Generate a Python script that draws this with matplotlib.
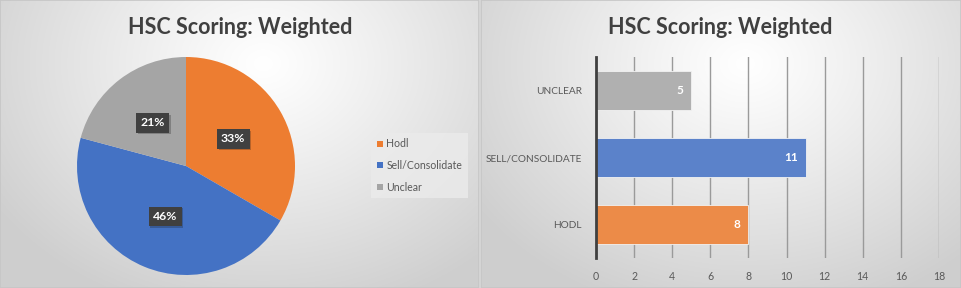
import numpy as np
import matplotlib
matplotlib.use("Agg")
import matplotlib.pyplot as plt
import matplotlib.patheffects as pe
from matplotlib.patches import Rectangle

# ---- data ----
title = "HSC Scoring: Weighted"
pie_labels = ["Hodl", "Sell/Consolidate", "Unclear"]
pie_values = [8, 11, 5]
pie_colors = ["#ED7D31", "#4472C4", "#A5A5A5"]

bar_categories = ["HODL", "SELL/CONSOLIDATE", "UNCLEAR"]
bar_values = [8, 11, 5]
bar_colors = ["#EC8B48", "#5B82CA", "#B0B0B0"]
x_ticks = [0, 2, 4, 6, 8, 10, 12, 14, 16, 18]

FONT = "Lato"
W, H = 961, 288
fig = plt.figure(figsize=(W / 100, H / 100), dpi=100)
fig.patch.set_facecolor("#d4d4d4")


def fx(px):
    return px / W


def fy(py):
    return 1 - py / H


def panel(x0, x1):
    ax = fig.add_axes([fx(x0), 0, fx(x1 - x0), 1])
    ny, nx = 200, 400
    yy, xx = np.mgrid[0:ny, 0:nx]
    u = xx / (nx - 1)
    v = yy / (ny - 1)
    d = np.sqrt(((u - 0.55) / 0.75) ** 2 + ((v - 0.22) / 1.0) ** 2)
    d = np.clip(d / 0.9, 0, 1)
    val = 1.0 - 0.19 * d ** 1.1
    img = np.dstack([val, val, val])
    ax.imshow(img, extent=[0, 1, 0, 1], aspect="auto", origin="upper")
    ax.add_patch(Rectangle((0, 0), 1, 1, transform=ax.transAxes, fill=False,
                           edgecolor="#c6c6c6", lw=1.2))
    ax.set_xlim(0, 1)
    ax.set_ylim(0, 1)
    ax.axis("off")
    return ax


panel(0, 479)
panel(481, 961)

title_kw = dict(fontsize=15.5, fontweight="bold", color="#404040", family=FONT,
                ha="center", va="center")
fig.text(fx(240), fy(27), title, **title_kw)
fig.text(fx(720), fy(27), title, **title_kw)

# ---- pie ----
cx, cy, r = 186, 166, 109
pax = fig.add_axes([fx(cx - r), fy(cy + r), fx(2 * r), 2 * r / H])
wedges, texts, autotexts = pax.pie(
    pie_values, colors=pie_colors, startangle=90, counterclock=False,
    autopct="%1.0f%%", pctdistance=0.5, radius=1,
    wedgeprops=dict(linewidth=0),
    textprops=dict(color="white", fontsize=8.8, fontweight="bold", family=FONT))
pax.set_xlim(-1, 1)
pax.set_ylim(-1, 1)
pax.set_aspect("auto")
for t in autotexts:
    t.set_bbox(dict(boxstyle="square,pad=0.35", facecolor="#404040",
                    edgecolor="none"))
    t.get_bbox_patch().set_path_effects(
        [pe.SimplePatchShadow(offset=(1.3, -1.3), alpha=0.25), pe.Normal()])

leg = fig.legend(wedges, pie_labels, loc="center left",
                 bbox_to_anchor=(fx(371), fy(165.5)),
                 frameon=True, handlelength=0.55, handleheight=0.55,
                 handletextpad=0.35, labelspacing=1.0, borderpad=0.55,
                 borderaxespad=0,
                 prop=dict(family=FONT, size=7.6), fancybox=False)
leg.get_frame().set_facecolor("#ebebeb")
leg.get_frame().set_edgecolor("none")
leg.get_frame().set_alpha(0.8)
for t in leg.get_texts():
    t.set_color("#595959")

# ---- bars ----
bax = fig.add_axes([fx(596), fy(258), fx(939 - 596), 201 / H])
bax.patch.set_alpha(0)
ypos = np.arange(len(bar_categories))
bars = bax.barh(ypos, bar_values, height=0.58, color=bar_colors,
                edgecolor="#f2f2f2", linewidth=0.6, zorder=3)
bax.set_xlim(0, 18)
bax.set_ylim(-0.5, len(bar_categories) - 0.5)
bax.set_xticks(x_ticks)
bax.set_yticks(ypos)
bax.set_yticklabels(bar_categories)
for lab in bax.get_yticklabels():
    lab.set_family(FONT)
    lab.set_fontsize(7.3)
    lab.set_color("#595959")
for lab in bax.get_xticklabels():
    lab.set_family(FONT)
    lab.set_fontsize(7.6)
    lab.set_color("#595959")
bax.tick_params(axis="both", length=0)
bax.tick_params(axis="y", pad=10)
bax.tick_params(axis="x", pad=9)
bax.grid(axis="x", color="#9a9a9a", linewidth=1.0, zorder=1)
for s in ["top", "right", "bottom"]:
    bax.spines[s].set_visible(False)
bax.spines["left"].set_color("#404040")
bax.spines["left"].set_linewidth(2)
bax.spines["left"].set_zorder(4)
for rect, v in zip(bars, bar_values):
    bax.text(v - 0.4, rect.get_y() + rect.get_height() / 2, str(v),
             ha="right", va="center", color="white", fontsize=8.5,
             fontweight="bold", family=FONT, zorder=5)

fig.savefig("out.png", dpi=100)
